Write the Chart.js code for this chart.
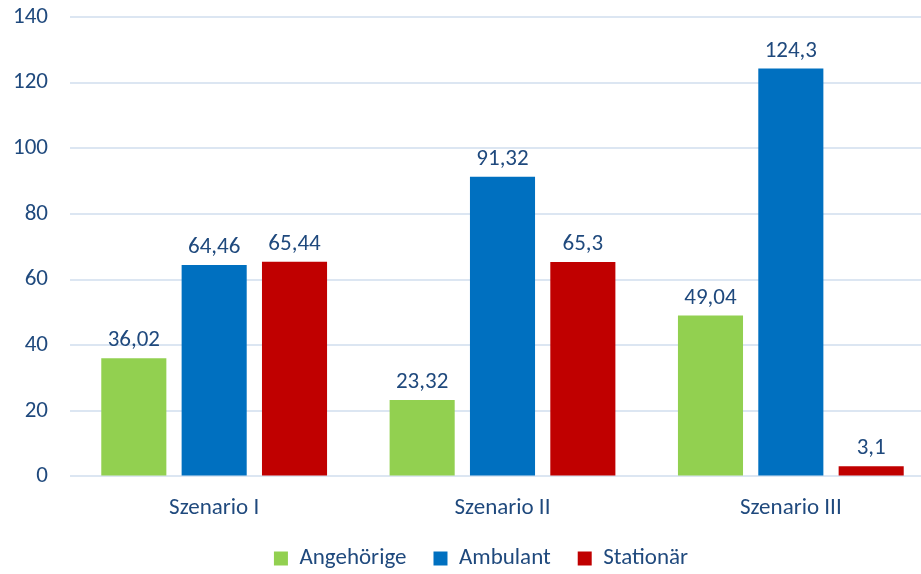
<!DOCTYPE html>
<html>
<head>
<meta charset="utf-8">
<script src="https://cdn.jsdelivr.net/npm/chart.js@4.4.0/dist/chart.umd.min.js"></script>
<style>
  html, body { margin: 0; padding: 0; background: #fff; overflow: hidden; }
  #wrap { width: 935px; height: 574px; }
</style>
</head>
<body>
<div id="wrap"><canvas id="chart" width="935" height="574"></canvas></div>
<script>
// chart data
const categories = ['Szenario I', 'Szenario II', 'Szenario III'];
const angehoerige = [36.02, 23.32, 49.04];
const ambulant = [64.46, 91.32, 124.3];
const stationaer = [65.44, 65.3, 3.1];
const yTicks = [0, 20, 40, 60, 80, 100, 120, 140];

const textColor = '#1F497D';
const fontFamily = 'Calibri, Carlito, "Open Sans", sans-serif';
const fontSize = 23;

// draws the value above each bar, german decimal comma
const valueLabels = {
    id: 'valueLabels',
    afterDatasetsDraw(chart) {
        const ctx = chart.ctx;
        ctx.save();
        ctx.font = fontSize + 'px ' + fontFamily;
        ctx.fillStyle = textColor;
        ctx.textAlign = 'center';
        ctx.textBaseline = 'bottom';
        chart.data.datasets.forEach((ds, i) => {
            chart.getDatasetMeta(i).data.forEach((bar, j) => {
                const txt = String(ds.data[j]).replace('.', ',');
                ctx.fillText(txt, bar.x, bar.y - 6);
            });
        });
        ctx.restore();
    }
};

// the original legend sits a bit right of the canvas centre
const shiftLegend = {
    id: 'shiftLegend',
    afterLayout(chart) {
        if (chart.legend) {
            chart.legend.left = 27;
            chart.legend.right = 935;
        }
    }
};

new Chart(document.getElementById('chart'), {
    type: 'bar',
    data: {
        labels: categories,
        datasets: [
            { label: 'Angehörige', data: angehoerige, backgroundColor: '#92D050' },
            { label: 'Ambulant', data: ambulant, backgroundColor: '#0070C0' },
            { label: 'Stationär', data: stationaer, backgroundColor: '#C00000' }
        ]
    },
    options: {
        responsive: false,
        animation: false,
        categoryPercentage: 0.836,
        barPercentage: 0.81,
        layout: { padding: { top: 17, left: 0, right: 0, bottom: 0 } },
        plugins: {
            tooltip: { enabled: false },
            legend: {
                position: 'bottom',
                maxHeight: 54,
                labels: {
                    boxWidth: 14,
                    boxHeight: 14,
                    padding: 27,
                    color: textColor,
                    font: { size: fontSize, family: fontFamily }
                }
            }
        },
        scales: {
            x: {
                grid: { display: false },
                border: { display: false },
                afterFit(scale) { scale.height -= 12; },
                ticks: { color: textColor, font: { size: fontSize, family: fontFamily }, padding: 10 }
            },
            y: {
                min: 0,
                max: 140,
                afterBuildTicks(scale) { scale.ticks = yTicks.map(v => ({ value: v })); },
                afterFit(scale) {
                    scale.width = 70;
                    scale.paddingTop = 0;
                    scale.paddingBottom = 0;
                },
                grid: { color: '#DCE6F2', lineWidth: 2, drawTicks: false },
                border: { display: false },
                ticks: { color: textColor, font: { size: fontSize, family: fontFamily }, padding: 22 }
            }
        }
    },
    plugins: [valueLabels, shiftLegend]
});
</script>
</body>
</html>
